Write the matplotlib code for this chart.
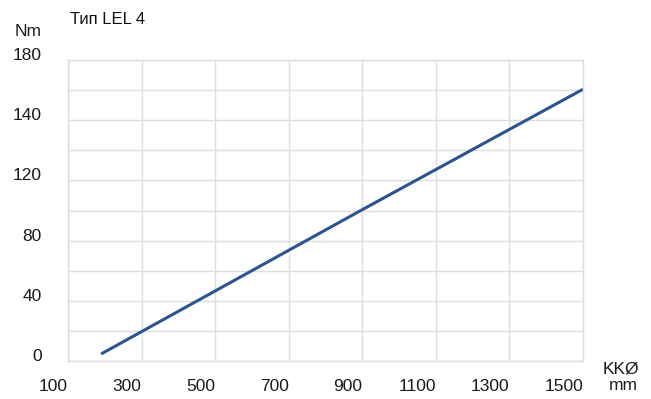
import numpy as np
import matplotlib.pyplot as plt
import matplotlib.ticker as mticker

plt.rcParams['font.family'] = ['Liberation Sans', 'DejaVu Sans']

# dane
kk_mm = [190, 900, 1500]
moment_nm = [4.2, 90.5, 162.5]
x_ticks = [100, 300, 500, 700, 900, 1100, 1300, 1500]
y_ticks = [0, 36, 72, 108, 144, 180]
y_labels = ['0', '40', '80', '120', '140', '180']

fig = plt.figure(figsize=(6.51, 3.99), dpi=100)
ax = fig.add_axes([68 / 651, 38 / 399, 515 / 651, 301 / 399])

ax.plot(kk_mm, moment_nm, color='#2c5490', linewidth=2.2, solid_capstyle='butt')

ax.set_xlim(100, 1500)
ax.set_ylim(0, 180)
ax.set_xticks(x_ticks)
ax.set_yticks(y_ticks)
ax.set_yticklabels(y_labels)
ax.yaxis.set_minor_locator(mticker.MultipleLocator(18))

ax.grid(True, which='both', color='#dedede', linewidth=1.0)
ax.set_axisbelow(True)
for s in ax.spines.values():
    s.set_color('#dedede')
    s.set_linewidth(1.0)

ax.tick_params(which='both', length=0, labelsize=12.5, colors='#1a1a1a')
ax.tick_params(axis='x', pad=13)
ax.tick_params(axis='y', pad=19)
for lab in ax.get_xticklabels():
    lab.set_horizontalalignment('right')
for lab in ax.get_yticklabels():
    lab.set_verticalalignment('baseline')

fig.text(70 / 651, 1 - 20 / 399, 'Тип LEL 4', fontsize=12, va='center', ha='left', color='#111111')
fig.text(28 / 651, 1 - 31 / 399, 'Nm', fontsize=12.5, va='center', ha='center', color='#1a1a1a')
fig.text(621 / 651, 1 - 369 / 399, 'KKØ', fontsize=12.5, va='center', ha='center', color='#1a1a1a')
fig.text(623 / 651, 1 - 385 / 399, 'mm', fontsize=12.5, va='center', ha='center', color='#1a1a1a')

fig.savefig('out.png', dpi=100)
